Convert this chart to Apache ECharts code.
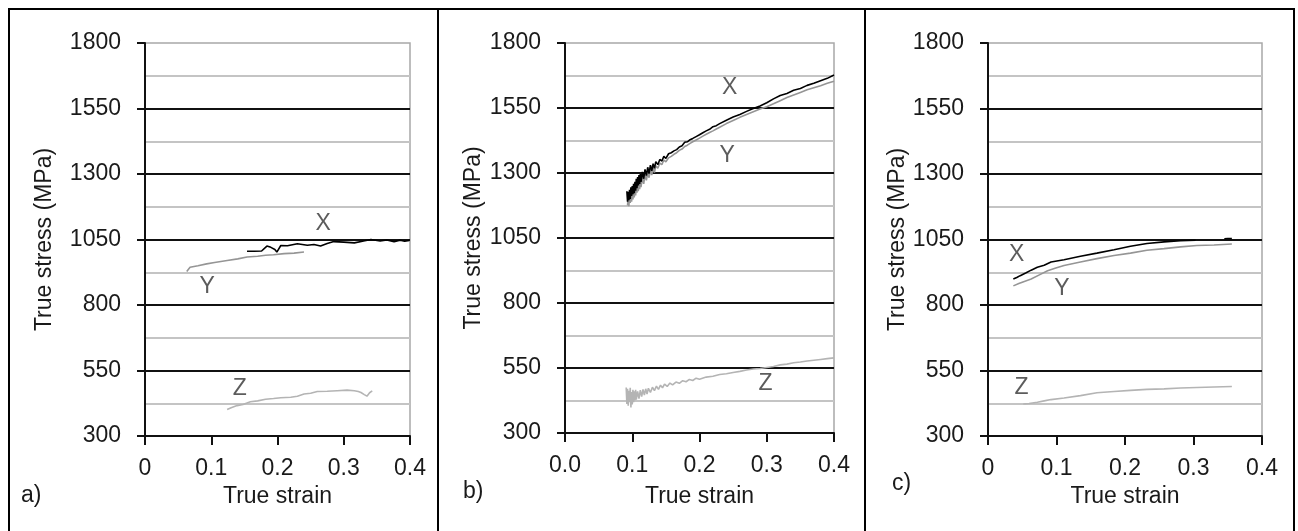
<!DOCTYPE html>
<html>
<head>
<meta charset="utf-8">
<script src="https://cdn.jsdelivr.net/npm/echarts@6/dist/echarts.min.js"></script>
<style>
html,body{margin:0;padding:0;background:#fff;}
#chart{width:1298px;height:531px;}
</style>
</head>
<body>
<div id="chart"></div>
<script>
// ---------- data ----------
const yTicks = [300, 550, 800, 1050, 1300, 1550, 1800];
const xTickLabelsAC = ['0', '0.1', '0.2', '0.3', '0.4'];
const xTickLabelsB = ['0.0', '0.1', '0.2', '0.3', '0.4'];
const panelTags = ['a)', 'b)', 'c)'];
const curveNames = ['X', 'Y', 'Z'];

// panel a
const aX_strain = [0.154,0.165,0.176,0.184,0.190,0.196,0.199,0.205,0.215,0.230,0.245,0.255,0.265,0.275,0.285,0.300,0.316,0.330,0.341,0.355,0.365,0.376,0.385,0.392,0.399];
const aX_stress = [1005,1005,1006,1025,1020,1012,1002,1027,1026,1034,1028,1031,1025,1035,1042,1040,1037,1044,1050,1044,1048,1042,1047,1043,1046];
const aY_strain = [0.063,0.066,0.068,0.080,0.093,0.105,0.124,0.140,0.154,0.170,0.182,0.194,0.210,0.225,0.240];
const aY_stress = [928,935,944,950,957,962,970,976,983,986,990,992,996,998,1002];
const aZ_strain = [0.124,0.130,0.139,0.148,0.159,0.170,0.182,0.194,0.205,0.220,0.230,0.240,0.250,0.260,0.275,0.290,0.305,0.316,0.322,0.326,0.331,0.335,0.339,0.343];
const aZ_stress = [401,408,416,420,431,434,440,443,446,448,452,460,463,470,471,473,475,473,470,466,458,452,465,472];

// panel b
const bX_strain = [0.092,0.093,0.094,0.095,0.096,0.097,0.098,0.099,0.100,0.101,0.102,0.103,0.104,0.105,0.106,0.107,0.108,0.109,0.110,0.111,0.112,0.113,0.115,0.117,0.119,0.121,0.123,0.125,0.127,0.129,0.131,0.133,0.135,0.138,0.141,0.144,0.147,0.150,0.154,0.158,0.162,0.166,0.170,0.174,0.178,0.182,0.186,0.190,0.195,0.200,0.205,0.210,0.215,0.220,0.225,0.230,0.240,0.250,0.260,0.270,0.280,0.290,0.300,0.310,0.320,0.330,0.340,0.350,0.360,0.370,0.380,0.390,0.400];
const bX_stress = [1230,1190,1228,1195,1235,1200,1245,1212,1250,1218,1258,1222,1266,1232,1278,1242,1284,1252,1292,1258,1296,1266,1304,1278,1314,1290,1322,1298,1330,1308,1336,1318,1344,1332,1352,1346,1364,1356,1374,1378,1385,1390,1400,1405,1418,1420,1428,1433,1440,1447,1455,1462,1468,1478,1482,1490,1503,1515,1525,1537,1548,1558,1570,1585,1598,1606,1618,1625,1637,1645,1655,1664,1677];
const bY_strain = [0.093,0.094,0.095,0.096,0.097,0.098,0.099,0.100,0.101,0.102,0.103,0.104,0.105,0.106,0.107,0.108,0.109,0.110,0.111,0.112,0.113,0.115,0.117,0.119,0.121,0.123,0.125,0.127,0.129,0.131,0.133,0.135,0.138,0.141,0.144,0.147,0.150,0.154,0.158,0.162,0.166,0.170,0.174,0.178,0.182,0.186,0.190,0.195,0.200,0.205,0.210,0.215,0.220,0.225,0.230,0.240,0.250,0.260,0.270,0.280,0.290,0.300,0.310,0.320,0.330,0.340,0.350,0.360,0.370,0.380,0.390,0.400];
const bY_stress = [1175,1212,1172,1218,1185,1226,1190,1232,1198,1240,1206,1246,1214,1254,1224,1262,1230,1268,1238,1276,1246,1282,1258,1294,1272,1302,1282,1312,1292,1320,1302,1328,1318,1338,1332,1350,1343,1358,1364,1372,1378,1387,1392,1402,1407,1414,1420,1427,1434,1442,1449,1456,1462,1469,1476,1490,1502,1514,1525,1536,1546,1555,1566,1578,1590,1600,1610,1620,1628,1636,1645,1653];
const bZ_strain = [0.091,0.092,0.093,0.094,0.095,0.096,0.097,0.098,0.099,0.100,0.101,0.102,0.103,0.104,0.105,0.106,0.108,0.110,0.112,0.114,0.116,0.118,0.120,0.122,0.124,0.127,0.130,0.133,0.136,0.139,0.142,0.145,0.148,0.152,0.156,0.160,0.165,0.170,0.175,0.180,0.185,0.190,0.195,0.200,0.210,0.220,0.230,0.240,0.250,0.260,0.270,0.280,0.290,0.300,0.310,0.320,0.330,0.340,0.350,0.360,0.370,0.380,0.390,0.400];
const bZ_stress = [475,412,470,405,462,418,474,398,458,410,466,418,460,426,466,428,460,432,465,440,468,446,470,450,472,456,476,463,480,468,484,474,488,479,492,485,496,491,501,497,506,502,511,507,515,518,525,528,533,537,542,546,548,552,556,562,565,570,573,577,580,583,586,589];

// panel c
const cX_strain = [0.037,0.042,0.047,0.055,0.063,0.072,0.082,0.092,0.111,0.135,0.159,0.184,0.208,0.232,0.257,0.281,0.303,0.320,0.345,0.350,0.356];
const cX_stress = [899,905,912,922,933,944,952,964,973,986,998,1011,1024,1035,1041,1045,1047,null,1053,1054,1054];
const cY_strain = [0.037,0.045,0.053,0.063,0.075,0.087,0.099,0.111,0.135,0.159,0.184,0.208,0.232,0.257,0.281,0.305,0.330,0.356];
const cY_stress = [873,882,890,899,915,931,941,951,964,977,989,998,1009,1015,1022,1027,1029,1033];
const cZ_strain = [0.0515,0.060,0.072,0.082,0.092,0.111,0.135,0.159,0.184,0.208,0.232,0.257,0.281,0.305,0.330,0.356];
const cZ_stress = [422,424,429,434,439,445,454,465,470,474,478,480,483,485,487,489];

// curve name labels [strain, stress] per panel in order X, Y, Z
const aTagStrain = [0.269, 0.094, 0.143];
const aTagStress = [1112, 870, 480];
const bTagStrain = [0.245, 0.241, 0.298];
const bTagStress = [1627, 1365, 490];
const cTagStrain = [0.042, 0.108, 0.049];
const cTagStress = [993, 861, 483];

// ---------- build ----------
const zip = (xs, ys) => xs.map((x, i) => [x, ys[i]]);
const FONT = "'Liberation Sans', Arial, sans-serif";
const TXT = '#1a1a1a';
const FS = 23;

const panels = [
  {grid:{left:145, top:43, width:265, height:393}, xl:xTickLabelsAC, yGap:89, xNameGap:49,
   series:[[aX_strain,aX_stress],[aY_strain,aY_stress],[aZ_strain,aZ_stress]], tags:[aTagStrain,aTagStress]},
  {grid:{left:565, top:43, width:269, height:390}, xl:xTickLabelsB, yGap:80, xNameGap:52,
   series:[[bX_strain,bX_stress],[bY_strain,bY_stress],[bZ_strain,bZ_stress]], tags:[bTagStrain,bTagStress]},
  {grid:{left:988, top:43, width:274, height:393}, xl:xTickLabelsAC, yGap:76, xNameGap:43,
   series:[[cX_strain,cX_stress],[cY_strain,cY_stress],[cZ_strain,cZ_stress]], tags:[cTagStrain,cTagStress]}
];
const colors = ['#000000', '#959595', '#b4b4b4'];

const option = {
  animation: false,
  backgroundColor: '#ffffff',
  grid: [], xAxis: [], yAxis: [], series: [], graphic: []
};

panels.forEach((p, i) => {
  option.grid.push(Object.assign({show:true, borderColor:'#a8a8a8', borderWidth:1.5, backgroundColor:'transparent'}, p.grid));
  option.xAxis.push({
    gridIndex:i, type:'value', min:0, max:0.4, interval:0.1,
    name:'True strain', nameLocation:'middle', nameGap:p.xNameGap,
    nameTextStyle:{fontFamily:FONT, fontSize:FS, color:TXT, letterSpacing:0.5},
    axisLine:{show:true, onZero:false, lineStyle:{color:'#111', width:2}},
    axisTick:{show:true, inside:false, length:9, lineStyle:{color:'#111', width:2}},
    axisLabel:{margin:21, fontFamily:FONT, fontSize:FS, color:TXT,
      formatter:(v)=>p.xl[Math.round(v*10)]},
    splitLine:{show:false}
  });
  option.yAxis.push({
    gridIndex:i, type:'value', min:yTicks[0], max:yTicks[yTicks.length-1], interval:250,
    name:'True stress (MPa)', nameLocation:'middle', nameGap:p.yGap,
    nameTextStyle:{fontFamily:FONT, fontSize:FS, color:TXT},
    axisLine:{show:true, onZero:false, lineStyle:{color:'#111', width:2}},
    axisTick:{show:true, inside:false, length:8, lineStyle:{color:'#111', width:2}},
    axisLabel:{margin:24, fontFamily:FONT, fontSize:FS, color:TXT,
      formatter:(v)=>String(yTicks[yTicks.indexOf(v)])},
    splitLine:{show:true, showMinLine:false, showMaxLine:false, lineStyle:{color:'#111', width:2}},
    minorTick:{show:false, splitNumber:2},
    minorSplitLine:{show:true, lineStyle:{color:'#c4c4c4', width:2}}
  });
  p.series.forEach((s, k) => {
    option.series.push({
      type:'line', xAxisIndex:i, yAxisIndex:i, name:curveNames[k],
      data:zip(s[0], s[1]), showSymbol:false, symbol:'none',
      connectNulls:false, z:5-k,
      lineStyle:{color:colors[k], width:1.6}
    });
  });
  option.series.push({
    type:'scatter', xAxisIndex:i, yAxisIndex:i, symbolSize:0, silent:true,
    data:curveNames.map((n, k) => ({name:n, value:[p.tags[0][k], p.tags[1][k]]})),
    label:{show:true, position:'inside', formatter:(d)=>d.name,
      fontFamily:FONT, fontSize:FS, color:'#333'}
  });
});

// panel frames and panel tags
const frameStyle = {stroke:'#000', lineWidth:2};
option.graphic = [
  {type:'line', shape:{x1:8, y1:9, x2:1295, y2:9}, style:frameStyle},
  {type:'line', shape:{x1:9, y1:8, x2:9, y2:531}, style:frameStyle},
  {type:'line', shape:{x1:438, y1:8, x2:438, y2:531}, style:frameStyle},
  {type:'line', shape:{x1:865, y1:8, x2:865, y2:531}, style:frameStyle},
  {type:'line', shape:{x1:1294, y1:8, x2:1294, y2:531}, style:frameStyle},
  {type:'text', left:21, top:484, style:{text:panelTags[0], font:FS+'px '+FONT, fill:TXT}},
  {type:'text', left:463, top:480, style:{text:panelTags[1], font:FS+'px '+FONT, fill:TXT}},
  {type:'text', left:892, top:472, style:{text:panelTags[2], font:FS+'px '+FONT, fill:TXT}}
];

const chart = echarts.init(document.getElementById('chart'));
chart.setOption(option);
</script>
</body>
</html>
